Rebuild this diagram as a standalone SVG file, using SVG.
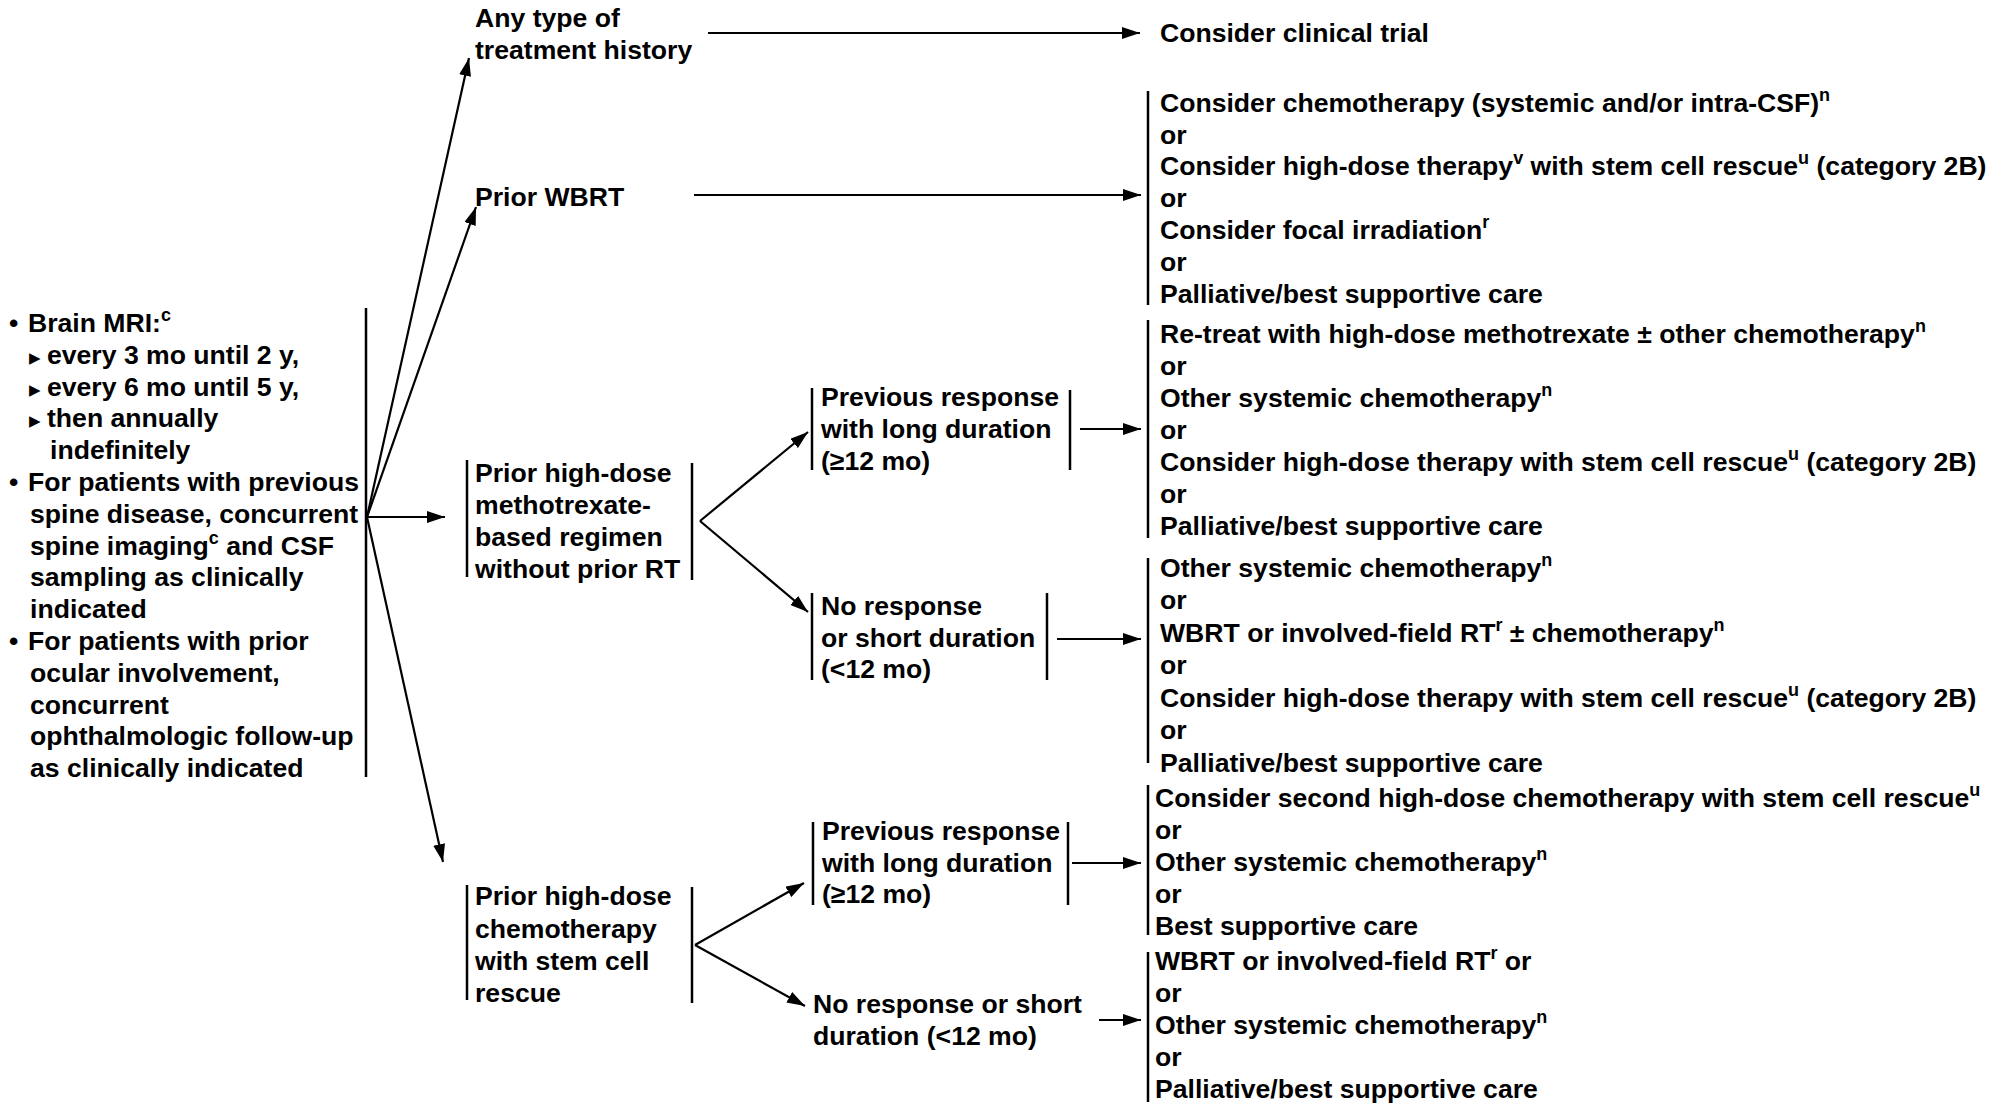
<svg xmlns="http://www.w3.org/2000/svg" width="2011" height="1104" viewBox="0 0 2011 1104">
<style>
.t{font-family:"Liberation Sans",Arial,sans-serif;font-weight:bold;font-size:26.6px;fill:#000}
.s{font-size:18px}
.tri{font-family:"DejaVu Sans",sans-serif;font-size:23px;font-weight:normal}
.ln{stroke:#000;stroke-width:2.2;fill:none}
.bar{stroke:#000;stroke-width:2.5;fill:none}
.ar{marker-end:url(#ah)}
</style>
<defs>
<marker id="ah" viewBox="0 0 18 12" refX="18" refY="6" markerWidth="18" markerHeight="12" markerUnits="userSpaceOnUse" orient="auto">
<path d="M0,0 L18,6 L0,12 z" fill="#000"/>
</marker>
</defs>
<rect width="2011" height="1104" fill="#fff"/>

<g id="followup">
<text class="t" x="9" y="332">•</text>
<text class="t" x="28" y="332">Brain MRI:<tspan class="s" dy="-11">c</tspan></text>
<text class="t tri" x="29" y="365">▸</text>
<text class="t" x="47" y="364">every 3 mo until 2 y,</text>
<text class="t tri" x="29" y="397">▸</text>
<text class="t" x="47" y="396">every 6 mo until 5 y,</text>
<text class="t tri" x="29" y="428">▸</text>
<text class="t" x="47" y="427">then annually</text>
<text class="t" x="50" y="459">indefinitely</text>
<text class="t" x="9" y="491">•</text>
<text class="t" x="28" y="491">For patients with previous</text>
<text class="t" x="30" y="523">spine disease, concurrent</text>
<text class="t" x="30" y="555">spine imaging<tspan class="s" dy="-11">c</tspan><tspan dy="11"> and CSF</tspan></text>
<text class="t" x="30" y="586">sampling as clinically</text>
<text class="t" x="30" y="618">indicated</text>
<text class="t" x="9" y="650">•</text>
<text class="t" x="28" y="650">For patients with prior</text>
<text class="t" x="30" y="682">ocular involvement,</text>
<text class="t" x="30" y="714">concurrent</text>
<text class="t" x="30" y="745">ophthalmologic follow-up</text>
<text class="t" x="30" y="777">as clinically indicated</text>
<line class="bar" x1="366" y1="308" x2="366" y2="777"/>
</g>

<g id="any-type">
<text class="t" x="475" y="27">Any type of</text>
<text class="t" x="475" y="59">treatment history</text>
</g>

<g id="clinical-trial">
<text class="t" x="1160" y="42">Consider clinical trial</text>
</g>

<g id="prior-wbrt">
<text class="t" x="475" y="206">Prior WBRT</text>
</g>

<g id="wbrt-options">
<line class="bar" x1="1148" y1="91" x2="1148" y2="305"/>
<text class="t" x="1160" y="112">Consider chemotherapy (systemic and/or intra-CSF)<tspan class="s" dy="-11">n</tspan></text>
<text class="t" x="1160" y="144">or</text>
<text class="t" x="1160" y="175">Consider high-dose therapy<tspan class="s" dy="-11">v</tspan><tspan dy="11"> with stem cell rescue</tspan><tspan class="s" dy="-11">u</tspan><tspan dy="11"> (category 2B)</tspan></text>
<text class="t" x="1160" y="207">or</text>
<text class="t" x="1160" y="239">Consider focal irradiation<tspan class="s" dy="-11">r</tspan></text>
<text class="t" x="1160" y="271">or</text>
<text class="t" x="1160" y="303">Palliative/best supportive care</text>
</g>

<g id="prior-mtx">
<line class="bar" x1="467" y1="460" x2="467" y2="577"/>
<text class="t" x="475" y="482">Prior high-dose</text>
<text class="t" x="475" y="514">methotrexate-</text>
<text class="t" x="475" y="546">based regimen</text>
<text class="t" x="475" y="578">without prior RT</text>
<line class="bar" x1="692" y1="463" x2="692" y2="580"/>
</g>

<g id="mtx-long">
<line class="bar" x1="812" y1="388" x2="812" y2="470"/>
<text class="t" x="821" y="406">Previous response</text>
<text class="t" x="821" y="438">with long duration</text>
<text class="t" x="821" y="470">(≥12 mo)</text>
<line class="bar" x1="1070" y1="390" x2="1070" y2="470"/>
</g>

<g id="mtx-long-options">
<line class="bar" x1="1148" y1="320" x2="1148" y2="538"/>
<text class="t" x="1160" y="343">Re-treat with high-dose methotrexate ± other chemotherapy<tspan class="s" dy="-11">n</tspan></text>
<text class="t" x="1160" y="375">or</text>
<text class="t" x="1160" y="407">Other systemic chemotherapy<tspan class="s" dy="-11">n</tspan></text>
<text class="t" x="1160" y="439">or</text>
<text class="t" x="1160" y="471">Consider high-dose therapy with stem cell rescue<tspan class="s" dy="-11">u</tspan><tspan dy="11"> (category 2B)</tspan></text>
<text class="t" x="1160" y="503">or</text>
<text class="t" x="1160" y="535">Palliative/best supportive care</text>
</g>

<g id="mtx-short">
<line class="bar" x1="812" y1="593" x2="812" y2="680"/>
<text class="t" x="821" y="615">No response</text>
<text class="t" x="821" y="647">or short duration</text>
<text class="t" x="821" y="678">(&lt;12 mo)</text>
<line class="bar" x1="1047" y1="593" x2="1047" y2="680"/>
</g>

<g id="mtx-short-options">
<line class="bar" x1="1148" y1="558" x2="1148" y2="763"/>
<text class="t" x="1160" y="577">Other systemic chemotherapy<tspan class="s" dy="-11">n</tspan></text>
<text class="t" x="1160" y="609">or</text>
<text class="t" x="1160" y="642">WBRT or involved-field RT<tspan class="s" dy="-11">r</tspan><tspan dy="11"> ± chemotherapy</tspan><tspan class="s" dy="-11">n</tspan></text>
<text class="t" x="1160" y="674">or</text>
<text class="t" x="1160" y="707">Consider high-dose therapy with stem cell rescue<tspan class="s" dy="-11">u</tspan><tspan dy="11"> (category 2B)</tspan></text>
<text class="t" x="1160" y="739">or</text>
<text class="t" x="1160" y="772">Palliative/best supportive care</text>
</g>

<g id="prior-hdc">
<line class="bar" x1="467" y1="885" x2="467" y2="1000"/>
<text class="t" x="475" y="905">Prior high-dose</text>
<text class="t" x="475" y="938">chemotherapy</text>
<text class="t" x="475" y="970">with stem cell</text>
<text class="t" x="475" y="1002">rescue</text>
<line class="bar" x1="692" y1="887" x2="692" y2="1003"/>
</g>

<g id="hdc-long">
<line class="bar" x1="813" y1="822" x2="813" y2="905"/>
<text class="t" x="822" y="840">Previous response</text>
<text class="t" x="822" y="872">with long duration</text>
<text class="t" x="822" y="903">(≥12 mo)</text>
<line class="bar" x1="1068" y1="822" x2="1068" y2="905"/>
</g>

<g id="hdc-long-options">
<line class="bar" x1="1148" y1="785" x2="1148" y2="935"/>
<text class="t" x="1155" y="807">Consider second high-dose chemotherapy with stem cell rescue<tspan class="s" dy="-11">u</tspan></text>
<text class="t" x="1155" y="839">or</text>
<text class="t" x="1155" y="871">Other systemic chemotherapy<tspan class="s" dy="-11">n</tspan></text>
<text class="t" x="1155" y="903">or</text>
<text class="t" x="1155" y="935">Best supportive care</text>
</g>

<g id="hdc-short">
<text class="t" x="813" y="1013">No response or short</text>
<text class="t" x="813" y="1045">duration (&lt;12 mo)</text>
</g>

<g id="hdc-short-options">
<line class="bar" x1="1148" y1="952" x2="1148" y2="1102"/>
<text class="t" x="1155" y="970">WBRT or involved-field RT<tspan class="s" dy="-11">r</tspan><tspan dy="11"> or</tspan></text>
<text class="t" x="1155" y="1002">or</text>
<text class="t" x="1155" y="1034">Other systemic chemotherapy<tspan class="s" dy="-11">n</tspan></text>
<text class="t" x="1155" y="1066">or</text>
<text class="t" x="1155" y="1098">Palliative/best supportive care</text>
</g>

<g id="connectors">
<line class="ln ar" x1="367" y1="517" x2="469" y2="58"/>
<line class="ln ar" x1="367" y1="517" x2="476" y2="207"/>
<line class="ln ar" x1="367" y1="517" x2="445" y2="517"/>
<line class="ln ar" x1="367" y1="517" x2="443" y2="862"/>
<line class="ln ar" x1="708" y1="33" x2="1140" y2="33"/>
<line class="ln ar" x1="694" y1="195" x2="1141" y2="195"/>
<line class="ln ar" x1="700" y1="521" x2="808" y2="432"/>
<line class="ln ar" x1="700" y1="521" x2="808" y2="612"/>
<line class="ln ar" x1="1080" y1="429" x2="1141" y2="429"/>
<line class="ln ar" x1="1057" y1="639" x2="1141" y2="639"/>
<line class="ln ar" x1="695" y1="945" x2="804" y2="883"/>
<line class="ln ar" x1="695" y1="945" x2="805" y2="1006"/>
<line class="ln ar" x1="1072" y1="863" x2="1141" y2="863"/>
<line class="ln ar" x1="1099" y1="1020" x2="1141" y2="1020"/>
</g>
</svg>
